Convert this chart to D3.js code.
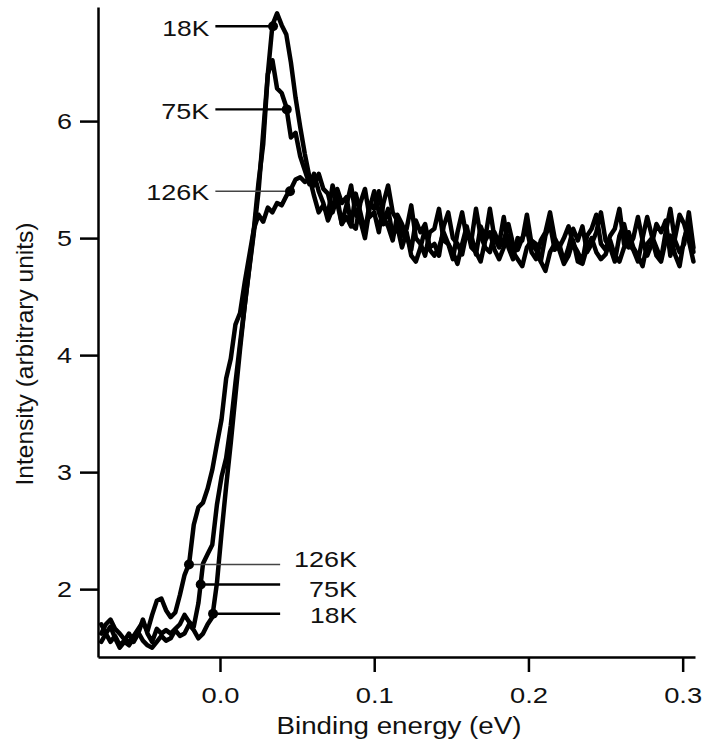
<!DOCTYPE html>
<html>
<head>
<meta charset="utf-8">
<script src="https://cdn.jsdelivr.net/npm/d3@7"></script>
<style>
  body { margin: 0; background: #fff; }
  text { font-family: "Liberation Sans", Arial, sans-serif; fill: #111; }
</style>
</head>
<body>
<div id="chart"></div>
<script>
// Binding energy grid (eV), shared by the three spectra
var energy = [
  -0.077, -0.074, -0.071, -0.068, -0.065, -0.062, -0.059, -0.056, -0.053, -0.050,
  -0.047, -0.044, -0.041, -0.038, -0.035, -0.032, -0.029, -0.026, -0.023, -0.020,
  -0.017, -0.014, -0.011, -0.008, -0.005, -0.002, 0.001, 0.004, 0.007, 0.010,
  0.013, 0.016, 0.019, 0.022, 0.025, 0.028, 0.031, 0.034, 0.037, 0.040,
  0.043, 0.046, 0.049, 0.052, 0.055, 0.058, 0.061, 0.064, 0.067, 0.070,
  0.073, 0.076, 0.079, 0.082, 0.085, 0.088, 0.091, 0.094, 0.097, 0.100,
  0.103, 0.106, 0.109, 0.112, 0.115, 0.118, 0.121, 0.124, 0.127, 0.130,
  0.133, 0.136, 0.139, 0.142, 0.145, 0.148, 0.151, 0.154, 0.157, 0.160,
  0.163, 0.166, 0.169, 0.172, 0.175, 0.178, 0.181, 0.184, 0.187, 0.190,
  0.193, 0.196, 0.199, 0.202, 0.205, 0.208, 0.211, 0.214, 0.217, 0.220,
  0.223, 0.226, 0.229, 0.232, 0.235, 0.238, 0.241, 0.244, 0.247, 0.250,
  0.253, 0.256, 0.259, 0.262, 0.265, 0.268, 0.271, 0.274, 0.277, 0.280,
  0.283, 0.286, 0.289, 0.292, 0.295, 0.298, 0.301, 0.304, 0.307
];

var intensity18K = [
  1.55, 1.62, 1.68, 1.58, 1.50, 1.55, 1.52, 1.58, 1.63, 1.56,
  1.52, 1.50, 1.55, 1.60, 1.56, 1.58, 1.65, 1.60, 1.62, 1.70,
  1.65, 1.58, 1.62, 1.70, 1.76, 2.05, 2.48, 2.88, 3.25, 3.65,
  4.05, 4.42, 4.75, 5.08, 5.48, 5.80, 6.40, 6.82, 6.92, 6.82,
  6.74, 6.50, 6.20, 5.95, 5.72,
  5.52, 5.36, 5.22, 5.28, 5.20,
  5.45, 5.30, 5.12, 5.18, 5.10, 5.38, 5.22, 5.05, 5.30, 5.25,
  5.40, 5.18, 5.10, 4.98, 5.20, 5.12, 5.02, 4.90, 5.15, 5.05,
  5.12, 4.92, 4.95, 4.85, 5.10, 5.22, 5.00, 4.95, 4.86, 5.05,
  4.98, 5.25, 5.02, 4.92, 4.88, 5.05, 4.95, 5.18, 4.92, 4.82,
  5.00, 4.98, 5.20, 4.95, 4.90, 4.80, 5.02, 5.12, 4.90, 4.95,
  4.80, 4.92, 5.08, 4.98, 5.10, 4.88, 4.95, 5.05, 5.22, 4.98,
  4.92, 4.80, 5.02, 5.12, 4.95, 4.90, 4.80, 5.00, 5.18, 5.02,
  4.92, 4.82, 5.05, 5.25, 4.98, 4.88, 4.95, 5.22, 4.92
];

var intensity75K = [
  1.70, 1.62, 1.55, 1.60, 1.52, 1.56, 1.62, 1.55, 1.62, 1.74,
  1.62, 1.55, 1.66, 1.62, 1.65, 1.62, 1.66, 1.70, 1.78, 1.72,
  1.68, 1.88, 2.22, 2.30, 2.38, 2.72, 2.96, 3.12, 3.40, 3.76,
  4.10, 4.42, 4.74, 5.05, 5.40, 5.90, 6.40, 6.52, 6.28, 6.24,
  6.12, 5.86, 5.90, 5.70, 5.58,
  5.46, 5.55, 5.40, 5.30, 5.15,
  5.25, 5.42, 5.30, 5.35, 5.12, 5.08, 5.30, 5.42, 5.18, 5.22,
  5.05, 5.30, 5.45, 5.22, 5.15, 5.02, 5.08, 5.28, 5.00, 4.95,
  4.85, 5.05, 5.08, 5.25, 4.98, 4.95, 4.82, 5.05, 5.22, 5.00,
  5.02, 4.86, 5.10, 5.00, 5.25, 5.00, 4.92, 4.98, 5.12, 4.95,
  4.90, 5.00, 5.08, 4.88, 4.82, 4.98, 5.05, 5.22, 5.00, 4.92,
  5.00, 5.10, 4.95, 4.88, 4.80, 5.02, 5.08, 5.20, 4.95, 4.90,
  5.02, 5.08, 5.25, 4.95, 4.92, 5.00, 5.18, 4.98, 4.85, 4.95,
  5.12, 5.05, 5.15, 4.85, 5.00, 5.20, 5.12, 4.98, 4.80
];

var intensity126K = [
  1.62, 1.70, 1.74, 1.66, 1.62, 1.57, 1.55, 1.60, 1.66, 1.72,
  1.64, 1.78, 1.90, 1.92, 1.82, 1.76, 1.80, 1.95, 2.12, 2.22,
  2.55, 2.70, 2.74, 2.86, 3.02, 3.24, 3.45, 3.80, 3.97, 4.26,
  4.36, 4.62, 4.85, 5.08, 5.20, 5.14, 5.26, 5.22, 5.30, 5.28,
  5.36, 5.42, 5.50, 5.52, 5.48,
  5.50, 5.45, 5.55, 5.42, 5.38,
  5.22, 5.35, 5.12, 5.28, 5.45, 5.20, 5.15, 5.00, 5.25, 5.40,
  5.22, 5.12, 5.25, 5.02, 5.10, 4.92, 5.05, 4.85, 4.80, 4.92,
  5.08, 4.90, 4.85, 4.92, 5.05, 4.95, 4.88, 4.78, 4.95, 5.10,
  4.92, 4.88, 4.80, 4.98, 5.05, 4.90, 4.82, 4.92, 5.02, 4.88,
  4.82, 4.76, 4.92, 4.98, 4.95, 4.80, 4.72, 4.88, 4.95, 4.90,
  4.78, 4.85, 4.98, 4.80, 4.78, 4.92, 5.00, 4.88, 4.82, 4.86,
  4.98, 4.85, 4.80, 4.92, 5.05, 4.92, 4.85, 4.76, 4.95, 5.00,
  4.85, 4.80, 4.98, 5.02, 4.86, 4.76, 5.00, 5.12, 4.88
];

var xTicks = [0.0, 0.1, 0.2, 0.3];
var yTicks = [2, 3, 4, 5, 6];

// Temperature markers sitting on the curves (upper set near the peak, lower set on the edge)
var markTemps = ["18K", "75K", "126K", "126K", "75K", "18K"];
var markEnergy = [0.0344, 0.0433, 0.0454, -0.0201, -0.0125, -0.0045];
var markIntensity = [6.81, 6.10, 5.40, 2.21, 2.04, 1.79];

var width = 705,
    height = 745,
    margin = { top: 7, right: 10, bottom: 88, left: 98 },
    axisColor = "#000",
    curveWidth = 4.5;

var x = d3.scaleLinear()
    .domain([-0.0791, 0.308])
    .range([margin.left, width - margin.right]);

var y = d3.scaleLinear()
    .domain([1.42, 6.975])
    .range([height - margin.bottom, margin.top]);

var svg = d3.select("#chart")
    .append("svg")
    .attr("width", width)
    .attr("height", height);

// the three spectra
var line = d3.line()
    .x(function (d) { return x(d[0]); })
    .y(function (d) { return y(d[1]); });

[intensity18K, intensity75K, intensity126K].forEach(function (series) {
    svg.append("path")
        .attr("fill", "none")
        .attr("stroke", "#000")
        .attr("stroke-width", curveWidth)
        .attr("stroke-linejoin", "round")
        .attr("stroke-linecap", "round")
        .attr("d", line(d3.zip(energy, series)));
});

// x axis
var xAxis = svg.append("g")
    .attr("transform", "translate(0," + (height - margin.bottom) + ")")
    .call(d3.axisBottom(x)
        .tickValues(xTicks)
        .tickFormat(d3.format(".1f"))
        .tickSize(15)
        .tickPadding(15)
        .tickSizeOuter(0));

// y axis
var yAxis = svg.append("g")
    .attr("transform", "translate(" + margin.left + ",0)")
    .call(d3.axisLeft(y)
        .tickValues(yTicks)
        .tickFormat(d3.format("d"))
        .tickSize(18)
        .tickPadding(8)
        .tickSizeOuter(0));

[xAxis, yAxis].forEach(function (g) {
    g.select(".domain").attr("stroke", axisColor).attr("stroke-width", 2.5);
    g.selectAll(".tick line").attr("stroke", axisColor).attr("stroke-width", 2.5);
    g.selectAll(".tick text")
        .attr("fill", "#111")
        .style("font-family", "'Liberation Sans', Arial, sans-serif")
        .style("font-size", "22px");
});
xAxis.selectAll(".tick text").attr("textLength", 38).attr("lengthAdjust", "spacingAndGlyphs");
yAxis.selectAll(".tick text").attr("textLength", 15).attr("lengthAdjust", "spacingAndGlyphs");

// axis titles
svg.append("text")
    .attr("x", 399)
    .attr("y", 734)
    .attr("text-anchor", "middle")
    .attr("textLength", 245)
    .attr("lengthAdjust", "spacingAndGlyphs")
    .style("font-size", "23px")
    .text("Binding energy (eV)");

svg.append("text")
    .attr("transform", "translate(33,354) rotate(-90)")
    .attr("text-anchor", "middle")
    .attr("textLength", 263)
    .attr("lengthAdjust", "spacingAndGlyphs")
    .style("font-size", "24px")
    .text("Intensity (arbitrary units)");

// markers: leader lines, dots and temperature labels
var leftLeaderX = x(-0.003),   // upper labels sit to the left of the peak
    rightLeaderX = x(0.039),   // lower labels sit to the right of the edge
    labelWidths = { "18K": 47, "75K": 48, "126K": 63 },
    labelNudge = [1.5, 1.5, 1.5, -5.5, 4.5, 1.5];

markTemps.forEach(function (t, i) {
    var cx = x(markEnergy[i]),
        cy = y(markIntensity[i]),
        upper = i < 3,
        lineEnd = upper ? leftLeaderX : rightLeaderX,
        thin = t === "126K";

    svg.append("line")
        .attr("x1", cx)
        .attr("x2", lineEnd)
        .attr("y1", cy)
        .attr("y2", cy)
        .attr("stroke", thin ? "#444" : "#000")
        .attr("stroke-width", thin ? 1.6 : 2.4);

    svg.append("circle")
        .attr("cx", cx)
        .attr("cy", cy)
        .attr("r", 5)
        .attr("fill", "#000");

    svg.append("text")
        .attr("x", upper ? lineEnd - 6 : rightLeaderX + 77)
        .attr("y", cy + labelNudge[i])
        .attr("dy", "0.35em")
        .attr("text-anchor", "end")
        .attr("textLength", labelWidths[t])
        .attr("lengthAdjust", "spacingAndGlyphs")
        .style("font-size", "22px")
        .text(t);
});
</script>
</body>
</html>
